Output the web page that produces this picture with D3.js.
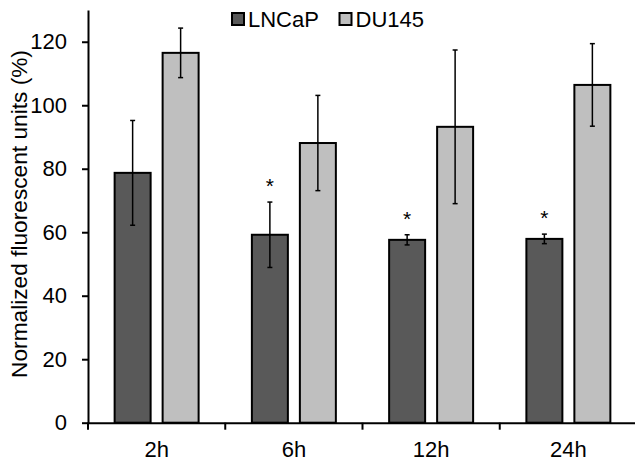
<!DOCTYPE html>
<html>
<head>
<meta charset="utf-8">
<script src="https://cdn.jsdelivr.net/npm/d3@7"></script>
<style>
  body { margin: 0; background: #fff; }
  svg text { font-family: "Liberation Sans", Arial, sans-serif; fill: #000; }
</style>
</head>
<body>
<div id="chart"></div>
<script>
// data
var times = ["2h", "6h", "12h", "24h"];
var series = ["LNCaP", "DU145"];
var lncapMean = [78.7, 59.2, 57.6, 57.9];
var lncapErr = [16.5, 10.3, 1.6, 1.5];
var du145Mean = [116.5, 88.1, 93.2, 106.4];
var du145Err = [7.8, 15.0, 24.2, 13.0];
var lncapStar = [false, true, true, true];
var yTicks = [0, 20, 40, 60, 80, 100, 120];

var colors = { LNCaP: "#595959", DU145: "#bfbfbf" };

var svgWidth = 635;
var svgHeight = 463;

var svg = d3.select("#chart")
  .append("svg")
  .attr("width", svgWidth)
  .attr("height", svgHeight);

// build rows
var rows = times.map(function(t, i) {
  return {
    time: t,
    values: [
      { key: "LNCaP", mean: lncapMean[i], err: lncapErr[i], star: lncapStar[i] },
      { key: "DU145", mean: du145Mean[i], err: du145Err[i], star: false }
    ]
  };
});

// scales
var x0 = d3.scaleBand()
  .domain(times)
  .range([88, 637])
  .paddingInner(0)
  .paddingOuter(0);

var x1 = d3.scaleBand()
  .domain(series)
  .range([0, x0.bandwidth()])
  .paddingInner(0.25)
  .paddingOuter(0.555);

var y = d3.scaleLinear()
  .domain([0, 130])
  .range([422.7, 10]);

// bars
var groups = svg.append("g").selectAll("g")
  .data(rows)
  .enter()
  .append("g")
  .attr("transform", d => `translate(${x0(d.time)},0)`);

groups.selectAll("rect")
  .data(d => d.values)
  .enter()
  .append("rect")
  .attr("x", d => x1(d.key))
  .attr("y", d => y(d.mean))
  .attr("width", x1.bandwidth())
  .attr("height", d => y(0) - y(d.mean))
  .attr("fill", d => colors[d.key])
  .attr("stroke", "#000")
  .attr("stroke-width", 2);

// error bars
var errs = groups.selectAll("g.err")
  .data(d => d.values)
  .enter()
  .append("g")
  .attr("class", "err")
  .attr("stroke", "#000")
  .attr("stroke-width", 1.5);

errs.append("line")
  .attr("x1", d => x1(d.key) + x1.bandwidth() / 2)
  .attr("x2", d => x1(d.key) + x1.bandwidth() / 2)
  .attr("y1", d => y(d.mean + d.err))
  .attr("y2", d => y(d.mean - d.err));

errs.append("line")
  .attr("x1", d => x1(d.key) + x1.bandwidth() / 2 - 2.5)
  .attr("x2", d => x1(d.key) + x1.bandwidth() / 2 + 2.5)
  .attr("y1", d => y(d.mean + d.err))
  .attr("y2", d => y(d.mean + d.err));

errs.append("line")
  .attr("x1", d => x1(d.key) + x1.bandwidth() / 2 - 2.5)
  .attr("x2", d => x1(d.key) + x1.bandwidth() / 2 + 2.5)
  .attr("y1", d => y(d.mean - d.err))
  .attr("y2", d => y(d.mean - d.err));

// significance stars
groups.selectAll("text.star")
  .data(d => d.values.filter(v => v.star))
  .enter()
  .append("text")
  .attr("class", "star")
  .attr("x", d => x1(d.key) + x1.bandwidth() / 2)
  .attr("y", d => y(d.mean + d.err) - 9)
  .attr("text-anchor", "middle")
  .attr("font-size", "21px")
  .text("*");

// y axis
var yAxis = d3.axisLeft(y)
  .tickValues(yTicks)
  .tickSizeOuter(0)
  .tickSizeInner(6)
  .tickPadding(15);

var yG = svg.append("g")
  .attr("transform", "translate(88,0)")
  .call(yAxis);
yG.select(".domain").attr("stroke-width", 2);
yG.selectAll(".tick line").attr("stroke-width", 2);
yG.selectAll(".tick text").attr("font-size", "22px").style("font-family", "Liberation Sans, Arial, sans-serif");

// x axis: labels at category centres, ticks at boundaries
var xAxis = d3.axisBottom(x0)
  .tickSize(0)
  .tickPadding(19);

var xG = svg.append("g")
  .attr("transform", `translate(0,${y(0)})`)
  .call(xAxis);
xG.select(".domain").attr("stroke-width", 2);
xG.selectAll(".tick text").attr("font-size", "22px").style("font-family", "Liberation Sans, Arial, sans-serif");

xG.selectAll("line.bound")
  .data(times.concat(["end"]))
  .enter()
  .append("line")
  .attr("class", "bound")
  .attr("x1", (d, i) => i < times.length ? x0(d) : x0.range()[1])
  .attr("x2", (d, i) => i < times.length ? x0(d) : x0.range()[1])
  .attr("y1", 0)
  .attr("y2", 7)
  .attr("stroke", "#000")
  .attr("stroke-width", 2);

// y axis title
svg.append("text")
  .attr("transform", "translate(26.5,214) rotate(-90)")
  .attr("text-anchor", "middle")
  .attr("font-size", "22.7px")
  .text("Normalized fluorescent units (%)");

// legend
var legend = svg.append("g").selectAll("g")
  .data(series)
  .enter()
  .append("g")
  .attr("transform", (d, i) => `translate(${[232, 339.5][i]},13)`);

legend.append("rect")
  .attr("width", 12)
  .attr("height", 12)
  .attr("fill", d => colors[d])
  .attr("stroke", "#000")
  .attr("stroke-width", 2);

legend.append("text")
  .attr("x", 16)
  .attr("y", 13.5)
  .attr("font-size", "22px")
  .text(d => d);
</script>
</body>
</html>
